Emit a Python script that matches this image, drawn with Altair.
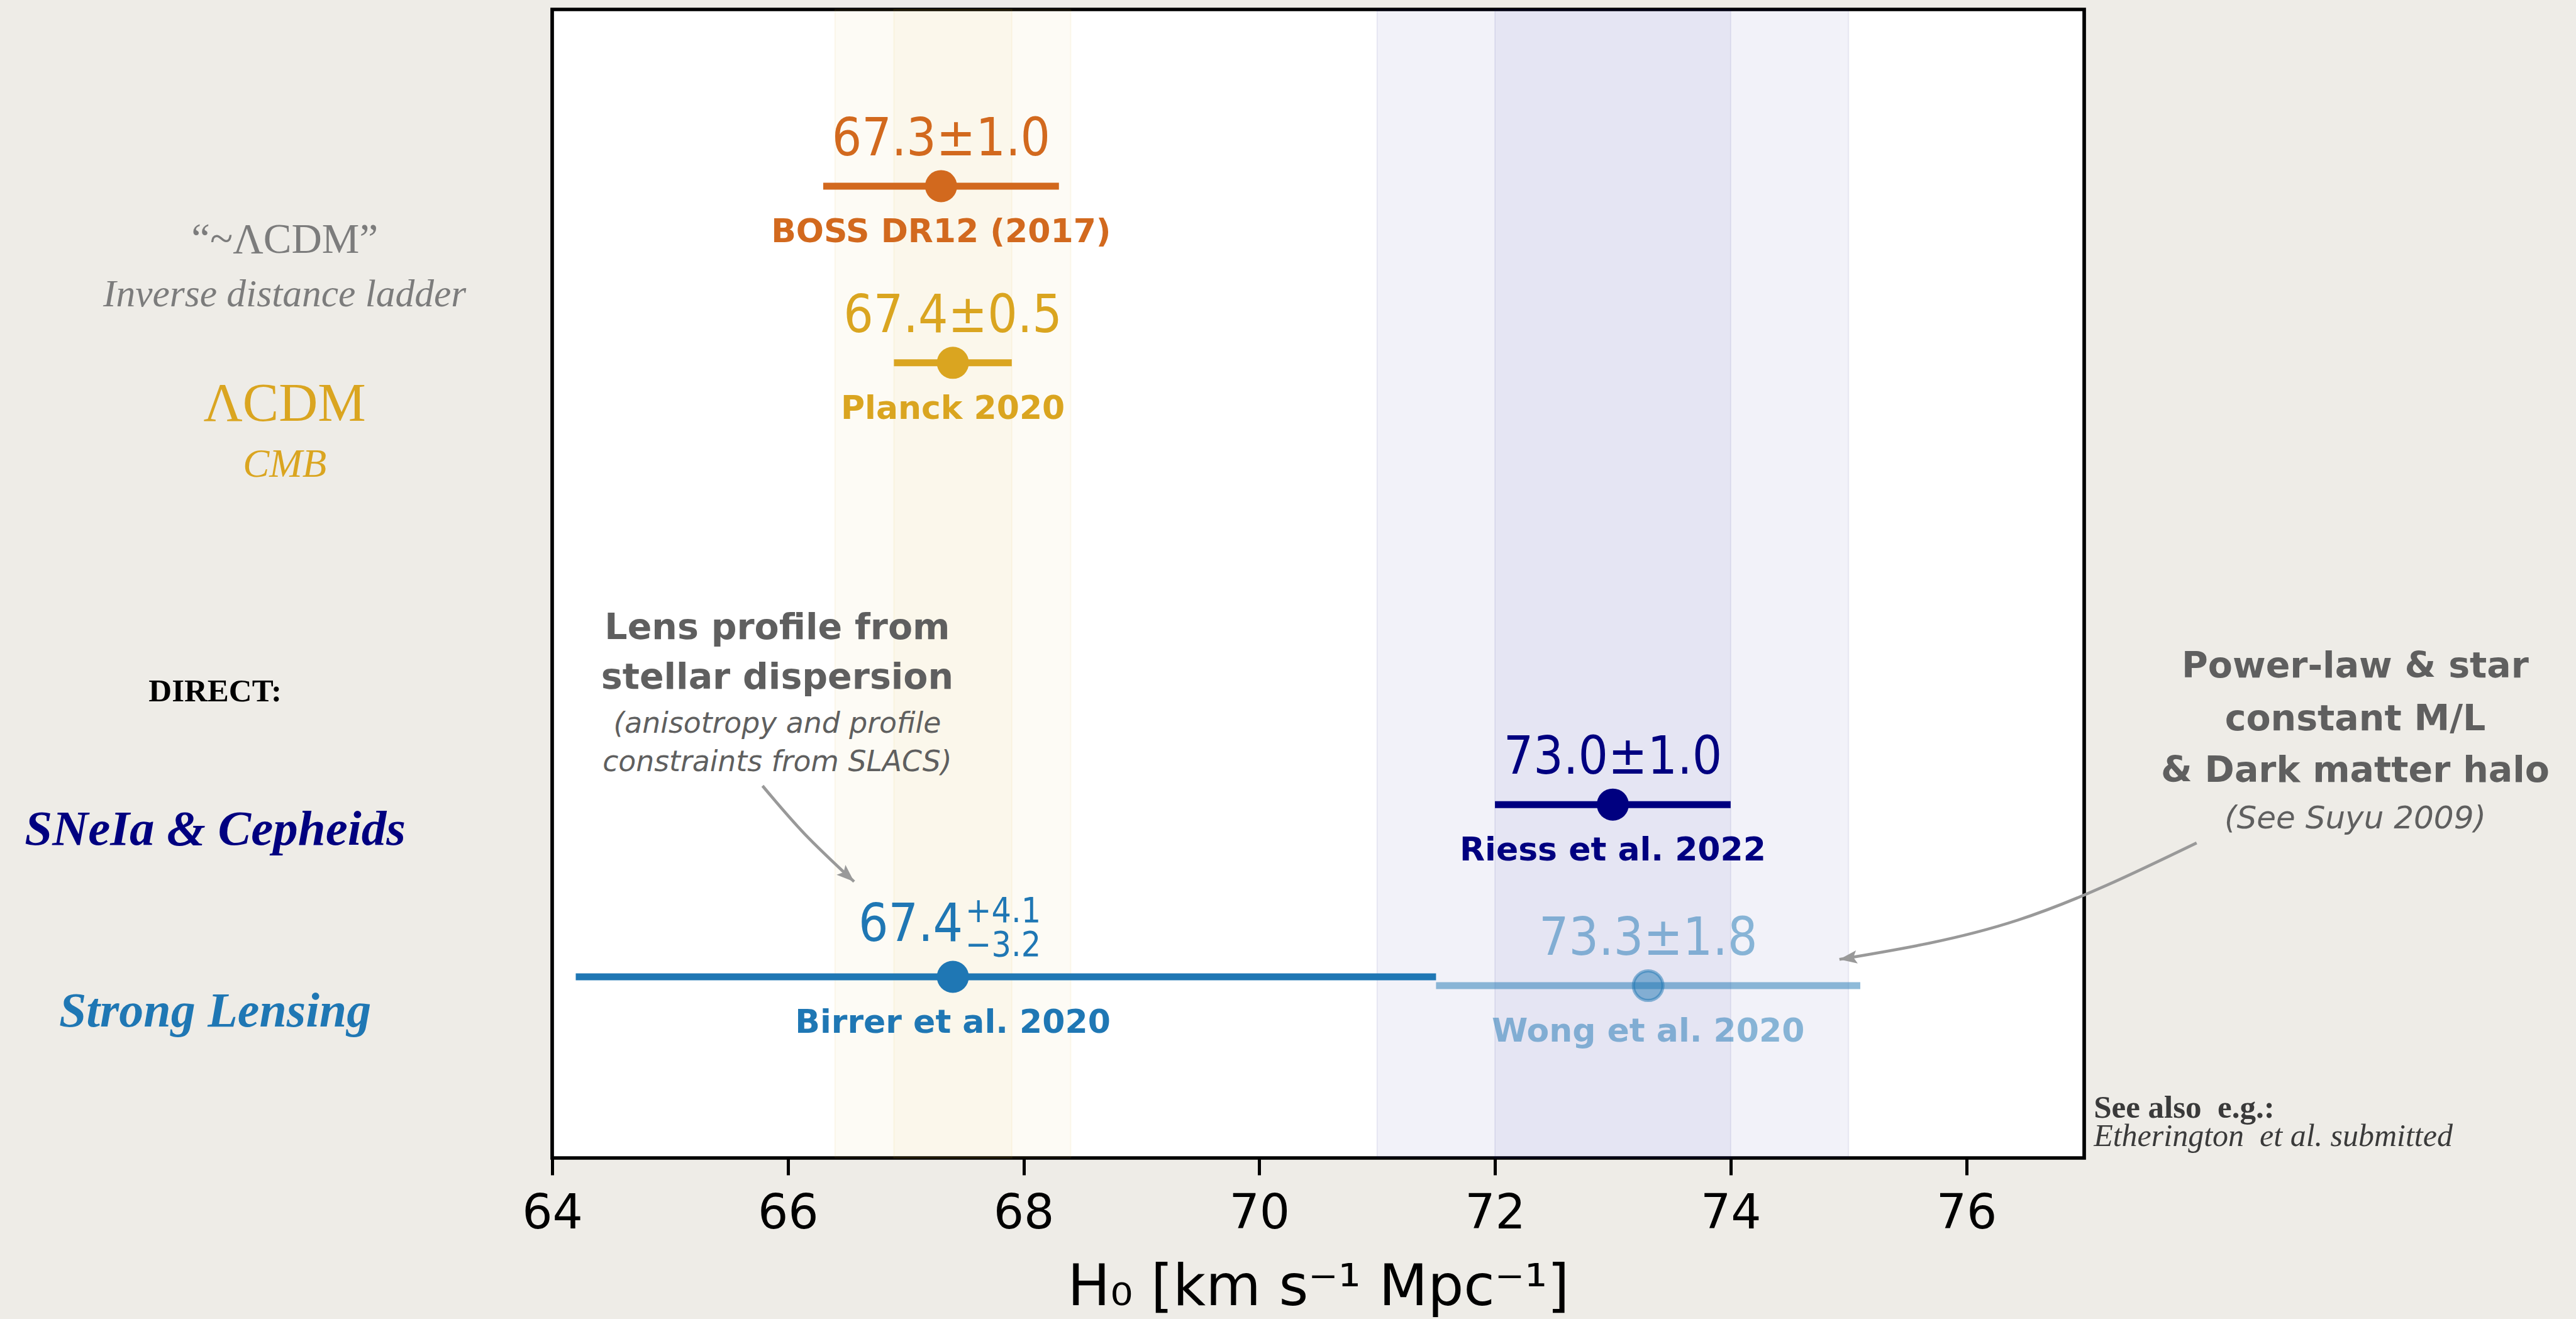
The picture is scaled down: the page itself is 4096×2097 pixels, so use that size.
import altair as alt
import pandas as pd

# ---------------- data ----------------
names = ["BOSS DR12 (2017)", "Planck 2020", "Riess et al. 2022",
         "Birrer et al. 2020", "Wong et al. 2020"]
h0 = [67.3, 67.4, 73.0, 67.4, 73.3]
err_minus = [1.0, 0.5, 1.0, 3.2, 1.8]
err_plus = [1.0, 0.5, 1.0, 4.1, 1.8]
rows = [5.5, 4.5, 2.0, 1.025, 0.975]
value_labels = ["67.3±1.0", "67.4±0.5", "73.0±1.0", "", "73.3±1.8"]

birrer_main = ["67.4"]
birrer_up = ["+4.1"]
birrer_down = ["−3.2"]

band_source = ["Planck 2020", "Planck 2020", "Riess et al. 2022", "Riess et al. 2022"]
band_center = [67.4, 67.4, 73.0, 73.0]
band_halfwidth = [0.5, 1.0, 1.0, 2.0]

x_ticks = [64, 66, 68, 70, 72, 74, 76]

# annotation anchors (data units: H0 on x, row units on y)
left_top = ["“~ΛCDM”"]
left_top_xy = [(61.73, 5.121)]
left_top_it = ["Inverse distance ladder"]
left_top_it_xy = [(61.73, 4.821)]
lcdm = ["ΛCDM"]
lcdm_xy = [(61.73, 4.172)]
cmb = ["CMB"]
cmb_xy = [(61.73, 3.856)]
direct = ["DIRECT:"]
direct_xy = [(61.14, 2.584)]
sne = ["SNeIa & Cepheids"]
sne_xy = [(61.14, 1.773)]
strong = ["Strong Lensing"]
strong_xy = [(61.14, 0.744)]
bold_notes = ["Lens profile from", "stellar dispersion",
              "Power-law & star", "constant M/L", "& Dark matter halo"]
bold_notes_xy = [(65.91, 2.937), (65.91, 2.654),
                 (79.30, 2.718), (79.30, 2.422), (79.30, 2.130)]
it_notes = ["(anisotropy and profile", "constraints from SLACS)"]
it_notes_xy = [(65.91, 2.406), (65.91, 2.190)]
suyu = ["(See Suyu 2009)"]
suyu_xy = [(79.30, 1.867)]
see_also = ["See also\u00a0\u00a0e.g.:"]
see_also_xy = [(77.081, 0.228)]
ether = ["Etherington\u00a0\u00a0et al. submitted"]
ether_xy = [(77.081, 0.066)]

arrow_id = [1, 1, 1, 2, 2, 2]
arrow_seq = [0, 1, 2, 0, 1, 2]
arrow_x = [65.785, 66.141, 66.562, 77.954, 76.436, 74.923]
arrow_y = [2.106, 1.835, 1.564, 1.783, 1.346, 1.124]
head_x = [66.562, 74.923]
head_y = [1.564, 1.124]
head_angle = [42, 172]

# ---------------- styling ----------------
palette = ["#D2691E", "#DAA520", "#000080", "#1F77B4", "#1F77B4"]
VALUE_FONT = "DejaVu Sans Condensed, DejaVu Sans"
SERIF = "Liberation Serif"
SANS = "DejaVu Sans"

df = pd.DataFrame(dict(name=names, h0=h0, em=err_minus, ep=err_plus,
                       row=rows, label=value_labels))
bands_df = pd.DataFrame(dict(name=band_source, c=band_center, hw=band_halfwidth))

xscale = alt.Scale(domain=[64, 77], nice=False, zero=False)
yscale = alt.Scale(domain=[0, 6.5], nice=False, zero=False)
xaxis = alt.Axis(values=x_ticks, format="d", grid=False, domain=False,
                 labelFlush=False, labelOverlap=False,
                 labelFont=SANS, labelFontSize=76, labelColor="black",
                 tickColor="black", tickWidth=5, tickSize=27, labelPadding=24,
                 title="H₀ [km s⁻¹ Mpc⁻¹]", titleFont=SANS, titleFontSize=90,
                 titleFontWeight="normal", titleColor="black", titlePadding=36)
cscale = alt.Scale(domain=names, range=palette)
color_enc = alt.Color("name:N", scale=cscale, legend=None)


def X(f):
    return alt.X(f, type="quantitative", scale=xscale, axis=xaxis)


def Y(f):
    return alt.Y(f, type="quantitative", scale=yscale, axis=None)


wong = alt.datum.name == "Wong et al. 2020"
fade = alt.condition(wong, alt.value(0.5), alt.value(1.0))
base = alt.Chart(df)

band_opacity = alt.condition(alt.datum.name == "Planck 2020", alt.value(0.045), alt.value(0.05))
bands = alt.Chart(bands_df).transform_calculate(
    x0="datum.c - datum.hw", x1="datum.c + datum.hw"
).mark_rect(strokeWidth=2, strokeOpacity=0.07).encode(
    x=X("x0"), x2="x1:Q",
    y=alt.YDatum(0, type="quantitative", scale=yscale, axis=None),
    y2=alt.Y2Datum(6.5),
    color=color_enc,
    stroke=alt.Stroke("name:N", scale=cscale, legend=None),
    fillOpacity=band_opacity,
)

errbars = base.transform_calculate(
    lo="datum.h0 - datum.em", hi="datum.h0 + datum.ep"
).mark_rule(strokeWidth=11, strokeCap="butt").encode(
    x=X("lo"), x2="hi:Q", y=Y("row"), color=color_enc, opacity=fade,
)

dots = base.transform_filter(~wong).mark_point(
    shape="circle", filled=True, size=2601, opacity=1, strokeWidth=0
).encode(x=X("h0"), y=Y("row"), color=color_enc)

wong_dot = base.transform_filter(wong).mark_point(
    shape="circle", filled=True, size=2209, fillOpacity=0.5, strokeOpacity=0.5,
    opacity=1, strokeWidth=5, stroke="#1F77B4"
).encode(x=X("h0"), y=Y("row"), color=color_enc)

vals = base.transform_filter("datum.label != ''").mark_text(
    font=VALUE_FONT, fontSize=83, baseline="alphabetic", align="center", dy=-49
).encode(x=X("h0"), y=Y("row"), text="label:N", color=color_enc, opacity=fade)

name_lbl = base.mark_text(
    font=SANS, fontWeight="bold", fontSize=52, baseline="alphabetic", align="center", dy=89
).encode(x=X("h0"), y=Y("row"), text="name:N", color=color_enc, opacity=fade)

bdf = df[df.name == "Birrer et al. 2020"].copy()
bdf["main"] = birrer_main
bdf["up"] = birrer_up
bdf["down"] = birrer_down
bbase = alt.Chart(bdf)
b_main = bbase.mark_text(font=VALUE_FONT, fontSize=83, baseline="alphabetic",
                         align="right", dx=16, dy=-57).encode(
    x=X("h0"), y=Y("row"), text="main:N", color=color_enc)
b_up = bbase.mark_text(font=VALUE_FONT, fontSize=55, baseline="alphabetic",
                       align="left", dx=20, dy=-87).encode(
    x=X("h0"), y=Y("row"), text="up:N", color=color_enc)
b_down = bbase.mark_text(font=VALUE_FONT, fontSize=55, baseline="alphabetic",
                         align="left", dx=20, dy=-33).encode(
    x=X("h0"), y=Y("row"), text="down:N", color=color_enc)


def text_layer(texts, xy, font, size, color, weight="normal", style="normal", align="center"):
    d = pd.DataFrame(dict(t=texts, x=[p[0] for p in xy], y=[p[1] for p in xy]))
    return alt.Chart(d).mark_text(
        font=font, fontSize=size, fontWeight=weight, fontStyle=style, color=color,
        align=align, baseline="alphabetic"
    ).encode(x=X("x"), y=Y("y"), text="t:N")


notes = [
    text_layer(left_top, left_top_xy, SERIF, 67, "#7C7C7C"),
    text_layer(left_top_it, left_top_it_xy, SERIF, 61.5, "#7C7C7C", style="italic"),
    text_layer(lcdm, lcdm_xy, SERIF, 86, "#DAA520"),
    text_layer(cmb, cmb_xy, SERIF, 63, "#DAA520", style="italic"),
    text_layer(direct, direct_xy, SERIF, 51, "#000000", weight="bold"),
    text_layer(sne, sne_xy, SERIF, 79, "#000080", weight="bold", style="italic"),
    text_layer(strong, strong_xy, SERIF, 78, "#1F77B4", weight="bold", style="italic"),
    text_layer(bold_notes, bold_notes_xy, SANS, 57, "#5F5F5F", weight="bold"),
    text_layer(it_notes, it_notes_xy, SANS, 45.7, "#5F5F5F", style="italic"),
    text_layer(suyu, suyu_xy, SANS, 50, "#5F5F5F", style="italic"),
    text_layer(see_also, see_also_xy, SERIF, 51, "#3A3A3A", weight="bold", align="left"),
    text_layer(ether, ether_xy, SERIF, 50, "#3A3A3A", style="italic", align="left"),
]

arrows_df = pd.DataFrame(dict(a=arrow_id, s=arrow_seq, x=arrow_x, y=arrow_y))
arrows = alt.Chart(arrows_df).mark_line(
    interpolate="natural", color="#999999", strokeWidth=4.7
).encode(x=X("x"), y=Y("y"), detail="a:N", order="s:Q")

heads_df = pd.DataFrame(dict(x=head_x, y=head_y, ang=head_angle))
heads = alt.Chart(heads_df).mark_point(
    shape="M0,0 L-2,-0.75 L-1.6,0 L-2,0.75 Z", filled=True, size=784, color="#999999",
    opacity=1, strokeWidth=0
).encode(x=X("x"), y=Y("y"), angle=alt.Angle("ang:Q", scale=None))

chart = alt.layer(
    bands, errbars, dots, wong_dot, vals, name_lbl, b_main, b_up, b_down,
    *notes, arrows, heads
).properties(
    width=2436, height=1826,
    background="#EEECE7",
    padding={"left": 878, "top": 15, "right": 782, "bottom": 256},
    autosize=alt.AutoSizeParams(type="none"),
).configure_view(fill="white", stroke="black", strokeWidth=5.7)

chart.save("out.html", embed_options={"renderer": "svg", "actions": False})
